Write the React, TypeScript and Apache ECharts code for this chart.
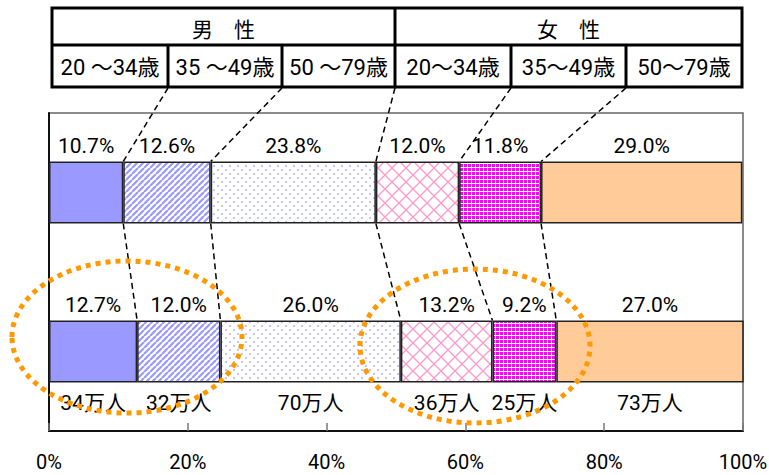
import React, { useEffect, useRef } from "react";
import * as echarts from "echarts";

const rows = ["上段", "下段"];
const segNames = ["男性20～34歳", "男性35～49歳", "男性50～79歳", "女性20～34歳", "女性35～49歳", "女性50～79歳"];
const men20 = [10.7, 12.7];
const men35 = [12.6, 12.0];
const men50 = [23.8, 26.0];
const women20 = [12.0, 13.2];
const women35 = [11.8, 9.2];
const women50 = [29.0, 27.0];
const population = ["34万人", "32万人", "70万人", "36万人", "25万人", "73万人"];
const headerGroups = ["男\u3000性", "女\u3000性"];
const headerAges = ["20 ～34歳", "35 ～49歳", "50 ～79歳", "20～34歳", "35～49歳", "50～79歳"];
const xTicks = [0, 20, 40, 60, 80, 100];

const NUM_FONT = "Roboto, 'Noto Sans CJK JP', sans-serif";

function makePattern(kind: string): any {
  const c = document.createElement("canvas");
  const ctx = c.getContext("2d")!;
  if (kind === "stripe") {
    c.width = 6; c.height = 6;
    ctx.fillStyle = "#ffffff"; ctx.fillRect(0, 0, 6, 6);
    ctx.strokeStyle = "#9999ff"; ctx.lineWidth = 2.2;
    ctx.beginPath();
    for (let k = -6; k <= 12; k += 6) { ctx.moveTo(k, 6); ctx.lineTo(k + 6, 0); }
    ctx.stroke();
  } else if (kind === "dots") {
    c.width = 8; c.height = 8;
    ctx.fillStyle = "#ffffff"; ctx.fillRect(0, 0, 8, 8);
    ctx.fillStyle = "#c4c4ff";
    ctx.fillRect(1, 1, 2, 2); ctx.fillRect(5, 5, 2, 2);
  } else if (kind === "cross") {
    c.width = 14; c.height = 14;
    ctx.fillStyle = "#ffffff"; ctx.fillRect(0, 0, 14, 14);
    ctx.strokeStyle = "#ff99cc"; ctx.lineWidth = 1.3;
    ctx.beginPath();
    ctx.moveTo(0, 0); ctx.lineTo(14, 14);
    ctx.moveTo(14, 0); ctx.lineTo(0, 14);
    ctx.stroke();
  } else {
    c.width = 4; c.height = 4;
    ctx.fillStyle = "#ffffff"; ctx.fillRect(0, 0, 4, 4);
    ctx.fillStyle = "#ff00ff";
    ctx.fillRect(0, 0, 3, 3);
  }
  return { image: c, repeat: "repeat" };
}

export default function App() {
  const ref = useRef<HTMLDivElement>(null);
  useEffect(() => {
    const chart = echarts.init(ref.current!, null, { renderer: "svg" });
    const seriesData = [men20, men35, men50, women20, women35, women50];
    const fills = ["#9999ff", makePattern("stripe"), makePattern("dots"), makePattern("cross"), makePattern("checker"), "#ffcc99"];
    chart.setOption({
      animation: false,
      grid: { left: 49, right: 26, top: 113, bottom: 44, show: true, borderColor: "#666", borderWidth: 1.5, outerBoundsMode: "none" },
      xAxis: {
        type: "value", min: 0, max: 100, interval: 20,
        axisLine: { show: true, lineStyle: { color: "#111", width: 2 } },
        axisTick: { show: true, inside: true, length: 8, lineStyle: { color: "#777", width: 1.5 } },
        splitLine: { show: false },
        axisLabel: { formatter: (v: number) => (xTicks.includes(v) ? v + "%" : ""), margin: 21, fontSize: 20, lineHeight: 20, color: "#000", fontFamily: NUM_FONT },
      },
      yAxis: {
        type: "category", data: rows, inverse: true,
        axisLine: { show: true, lineStyle: { color: "#111", width: 2 } },
        axisTick: { show: false }, axisLabel: { show: false },
      },
      series: seriesData.map((d, i) => ({
        name: segNames[i], type: "bar", stack: "all", barWidth: 62,
        data: d,
        itemStyle: { color: fills[i], borderColor: "#222", borderWidth: 1.5 },
        label: {
          show: true, position: "top", distance: 5,
          formatter: (p: any) => Number(p.value).toFixed(1) + "%",
          fontSize: 21, color: "#000", fontFamily: NUM_FONT,
        },
      })),
    });

    const cum = (row: number) => {
      const out: number[] = [];
      let s = 0;
      seriesData.forEach((d) => { s += d[row]; out.push(s); });
      return out;
    };
    const cumTop = cum(0);
    const cumBot = cum(1);
    const barHalf = 31;
    const yTop = chart.convertToPixel({ yAxisIndex: 0 }, rows[0]) as number;
    const yBot = chart.convertToPixel({ yAxisIndex: 0 }, rows[1]) as number;
    const px = (v: number) => chart.convertToPixel({ xAxisIndex: 0 }, v) as number;

    const elements: any[] = [];
    const hx = [52, 168, 282, 395, 511, 626, 742];
    const hy0 = 8, hy1 = 45, hy2 = 87;
    elements.push({ type: "rect", shape: { x: hx[0], y: hy0, width: hx[6] - hx[0], height: hy2 - hy0 }, style: { fill: "#fff", stroke: "#000", lineWidth: 3 }, z: 10 });
    elements.push({ type: "line", shape: { x1: hx[0], y1: hy1, x2: hx[6], y2: hy1 }, style: { stroke: "#000", lineWidth: 3 }, z: 11 });
    elements.push({ type: "line", shape: { x1: hx[3], y1: hy0, x2: hx[3], y2: hy2 }, style: { stroke: "#000", lineWidth: 3 }, z: 11 });
    [1, 2, 4, 5].forEach((k) => elements.push({ type: "line", shape: { x1: hx[k], y1: hy1, x2: hx[k], y2: hy2 }, style: { stroke: "#000", lineWidth: 3 }, z: 11 }));
    headerGroups.forEach((g, i) => elements.push({
      type: "text", x: (hx[i * 3] + hx[i * 3 + 3]) / 2, y: (hy0 + hy1) / 2 + 1, z: 12,
      style: { text: g, fontSize: 21, fontFamily: "'Noto Sans CJK JP', sans-serif", fill: "#000", align: "center", verticalAlign: "middle" },
    }));
    headerAges.forEach((a, i) => elements.push({
      type: "text", x: (hx[i] + hx[i + 1]) / 2, y: (hy1 + hy2) / 2 + 1, z: 12,
      style: { text: a, fontSize: 22, fontFamily: NUM_FONT, fill: "#000", align: "center", verticalAlign: "middle" },
    }));
    for (let k = 0; k < 5; k++) {
      elements.push({ type: "line", z: 9, shape: { x1: hx[k + 1], y1: hy2 + 1, x2: px(cumTop[k]), y2: yTop - barHalf }, style: { stroke: "#000", lineWidth: 1.5, lineDash: [6, 4] } });
      elements.push({ type: "line", z: 9, shape: { x1: px(cumTop[k]), y1: yTop + barHalf, x2: px(cumBot[k]), y2: yBot - barHalf }, style: { stroke: "#000", lineWidth: 1.5, lineDash: [6, 4] } });
    }
    population.forEach((t, i) => {
      const mid = cumBot[i] - seriesData[i][1] / 2;
      elements.push({
        type: "text", x: px(mid), y: yBot + barHalf + 20, z: 12,
        style: { text: t, fontSize: 21, fontFamily: NUM_FONT, fill: "#000", align: "center", verticalAlign: "middle" },
      });
    });
    elements.push({ type: "ellipse", z: 20, shape: { cx: 127, cy: 337, rx: 115, ry: 76 }, style: { fill: "none", stroke: "#ff9900", lineWidth: 5, lineDash: [5, 5] } });
    elements.push({ type: "ellipse", z: 20, shape: { cx: 475, cy: 346, rx: 115, ry: 77 }, style: { fill: "none", stroke: "#ff9900", lineWidth: 5, lineDash: [5, 5] } });

    chart.setOption({ graphic: { elements } });
    return () => chart.dispose();
  }, []);
  return <div ref={ref} style={{ position: "fixed", left: 0, top: 0, width: 769, height: 475, background: "#fff" }} />;
}
